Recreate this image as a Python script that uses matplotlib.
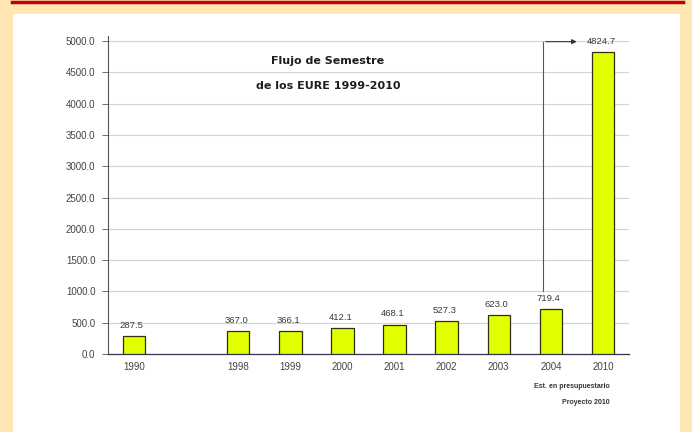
import matplotlib.pyplot as plt
from matplotlib.patches import Rectangle
from matplotlib.lines import Line2D

plt.rcParams['font.family'] = ['Liberation Sans', 'DejaVu Sans']

years = ['1990', '', '1998', '1999', '2000', '2001', '2002', '2003', '2004', '2010']
values = [287.5, None, 367.0, 366.1, 412.1, 468.1, 527.3, 623.0, 719.4, 4824.7]
yticks = [0, 500, 1000, 1500, 2000, 2500, 3000, 3500, 4000, 4500, 5000]

fig = plt.figure(figsize=(6.92, 4.32), dpi=100)
fig.patch.set_facecolor('#FFE6B3')

# white sheet and red rule at the top
fig.add_artist(Rectangle((0.0188, 0.0), 0.964, 0.9676, transform=fig.transFigure,
                         facecolor='white', edgecolor='none', zorder=0))
fig.add_artist(Line2D([0.017, 0.987], [0.995, 0.995], transform=fig.transFigure,
                      color='#C00010', lw=2.5))

ax = fig.add_axes([0.156, 0.1806, 0.753, 0.736])
ax.set_facecolor('white')

xs = [i for i, v in enumerate(values) if v is not None]
hs = [v for v in values if v is not None]
ax.bar(xs, hs, width=0.43, color='#E2FF00', edgecolor='#2E2E10', linewidth=0.9, zorder=3)

for x, v in zip(xs, hs):
    ax.text(x - 0.04, v + 100, '%.1f' % v, ha='center', va='bottom', fontsize=6.8,
            color='#3A3A3A', zorder=4)

ax.set_xlim(-0.5, 9.5)
ax.set_ylim(0, 5080)
ax.set_yticks(yticks)
ax.set_yticklabels(['%.1f' % t for t in yticks])
ax.set_xticks(xs)
ax.set_xticklabels([years[i] for i in xs])
ax.tick_params(axis='y', labelsize=7, labelcolor='#444444', length=4, width=0.6,
               color='#555555', pad=5)
ax.tick_params(axis='x', labelsize=7, labelcolor='#444444', length=0, pad=6)

ax.grid(axis='y', color='#D2D2D2', lw=0.8, zorder=0)
for s in ['top', 'right']:
    ax.spines[s].set_visible(False)
ax.spines['left'].set_color('#555555')
ax.spines['left'].set_linewidth(0.8)
ax.spines['bottom'].set_color('#333355')
ax.spines['bottom'].set_linewidth(0.9)

ax.text(2.63, 4680, 'Flujo de Semestre', fontsize=8, fontweight='bold', color='#1E1E1E',
        ha='left', va='center', family='DejaVu Sans')
ax.text(2.35, 4281, 'de los EURE 1999-2010', fontsize=8, fontweight='bold', color='#1E1E1E',
        ha='left', va='center', family='DejaVu Sans')

# pointer from the 2004 bar up to the 2010 value
ax.plot([7.85, 7.85], [values[8] + 280, 4990], color='#555555', lw=0.8, zorder=2)
ax.annotate('', xy=(8.55, 4990), xytext=(7.85, 4990),
            arrowprops=dict(arrowstyle='-|>', color='#333333', lw=0.8, mutation_scale=7))

ax.text(9.13, -520, 'Est. en presupuestario', fontsize=5, fontweight='bold', color='#333333',
        ha='right', va='center')
ax.text(9.13, -770, 'Proyecto 2010', fontsize=5, fontweight='bold', color='#333333',
        ha='right', va='center')

fig.savefig('out.png', dpi=100, facecolor=fig.get_facecolor())
